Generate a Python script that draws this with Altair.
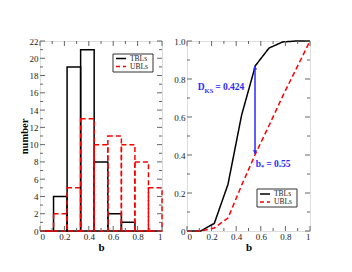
import altair as alt
import pandas as pd

# ---------------- data ----------------
bin_lo = [0.0, 0.111, 0.222, 0.333, 0.444, 0.556, 0.667, 0.778, 0.889]
bin_hi = [0.111, 0.222, 0.333, 0.444, 0.556, 0.667, 0.778, 0.889, 1.0]
tbl_counts = [0, 4, 19, 21, 8, 2, 1, 0, 0]
ubl_counts = [0, 2, 5, 13, 10, 11, 10, 8, 5]

cdf_b = [0.0, 0.111, 0.222, 0.333, 0.444, 0.556, 0.667, 0.778, 0.889, 1.0]
tbl_cdf = [0.0, 0.0, 0.04, 0.245, 0.61, 0.87, 0.963, 0.995, 1.0, 1.0]
ubl_cdf = [0.0, 0.0, 0.016, 0.068, 0.24, 0.405, 0.555, 0.71, 0.855, 1.0]

b_star = 0.553
d_lo, d_hi = 0.405, 0.87

hist_yticks_major = [0, 2, 4, 6, 8, 10, 12, 14, 16, 18, 20, 22]
hist_yticks_minor = [1, 3, 5, 7, 9, 11, 13, 15, 17, 19, 21]
cdf_yticks_major = [0, 0.2, 0.4, 0.6, 0.8, 1.0]
cdf_yticks_minor = [0.1, 0.3, 0.5, 0.7, 0.9]
xticks_major = [0, 0.2, 0.4, 0.6, 0.8, 1.0]
xticks_minor = [0.1, 0.3, 0.5, 0.7, 0.9]

series = ["TBLs", "UBLs"]

FONT = "Liberation Serif"
BLUE = "#2b2bff"
RED = "#ff0000"
TICK = "#666666"

W1, W2, H = 122, 123, 190

hist_t = pd.DataFrame({"lo": bin_lo, "hi": bin_hi, "n": tbl_counts})
hist_u = pd.DataFrame({"lo": bin_lo, "hi": bin_hi, "n": ubl_counts})
cdf_df = pd.DataFrame({"b": cdf_b * 2,
                       "F": tbl_cdf + ubl_cdf,
                       "s": [series[0]] * len(cdf_b) + [series[1]] * len(cdf_b)})

XAXIS = alt.Axis(values=xticks_major, labelExpr="format(datum.value, '~g')",
                 domain=False, ticks=False, grid=False, labelPadding=1,
                 labelFont=FONT, labelFontSize=9, labelColor="#222",
                 title="b", titleFont=FONT, titleFontSize=11,
                 titleFontWeight="bold", titlePadding=0, titleColor="#000")
YAXIS1 = alt.Axis(values=hist_yticks_major, domain=False, ticks=False, grid=False,
                  labelPadding=2, labelFont=FONT, labelFontSize=9, labelColor="#222",
                  title="number", titleFont=FONT, titleFontSize=10.5,
                  titleFontWeight="bold", titlePadding=0, titleColor="#000")
YAXIS2 = alt.Axis(values=cdf_yticks_major,
                  labelExpr="datum.value == 0 ? '0' : format(datum.value, '.1f')",
                  domain=False, ticks=False, grid=False, labelPadding=2,
                  labelFont=FONT, labelFontSize=9, labelColor="#222", title="")

xs1 = alt.Scale(domain=[0, 1], nice=False, zero=False)
ys1 = alt.Scale(domain=[0, 22], nice=False)
xs2 = alt.Scale(domain=[0, 1], nice=False, zero=False)
ys2 = alt.Scale(domain=[0, 1], nice=False)


def tick_layers(xs, xaxis, ys, yaxis, ys_major, ys_minor, width):
    layers = []
    for vals, ln in ((xticks_major, 5), (xticks_minor, 3)):
        df = pd.DataFrame({"v": vals})
        for y0, y1 in ((H, H - ln), (0, ln)):
            layers.append(alt.Chart(df).mark_rule(color=TICK, strokeWidth=1).encode(
                x=alt.X("v:Q", scale=xs, axis=xaxis),
                y=alt.value(y0), y2=alt.value(y1)))
    for vals, ln in ((ys_major, 5), (ys_minor, 3)):
        df = pd.DataFrame({"v": vals})
        for x0, x1 in ((0, ln), (width, width - ln)):
            layers.append(alt.Chart(df).mark_rule(color=TICK, strokeWidth=1).encode(
                y=alt.Y("v:Q", scale=ys, axis=yaxis),
                x=alt.value(x0), x2=alt.value(x1)))
    return layers


def legend_layers(bx0, by0, bx1, by1, row1, row2, lx0, lx1, tx):
    one = pd.DataFrame({"k": [0]})
    box = alt.Chart(one).mark_rect(fill="white", stroke="#333", strokeWidth=1).encode(
        x=alt.value(bx0), x2=alt.value(bx1), y=alt.value(by0), y2=alt.value(by1))
    l1 = alt.Chart(one).mark_rule(color="black", strokeWidth=1.5).encode(
        x=alt.value(lx0), x2=alt.value(lx1), y=alt.value(row1))
    l2 = alt.Chart(one).mark_rule(color=RED, strokeWidth=1.5, strokeDash=[4, 3]).encode(
        x=alt.value(lx0), x2=alt.value(lx1), y=alt.value(row2))
    out = [box, l1, l2]
    for lab, yy in zip(series, (row1, row2)):
        out.append(alt.Chart(pd.DataFrame({"lab": [lab]})).mark_text(
            font=FONT, fontSize=7.5, align="left", baseline="middle", color="#222").encode(
            x=alt.value(tx), y=alt.value(yy), text="lab:N"))
    return out


# ---------------- left: histogram ----------------
bars_t = alt.Chart(hist_t).mark_rect(fillOpacity=0, stroke="black", strokeWidth=1.5).encode(
    x=alt.X("lo:Q", scale=xs1, axis=XAXIS), x2="hi:Q",
    y=alt.Y("n:Q", scale=ys1, axis=YAXIS1), y2=alt.datum(0))
bars_u = alt.Chart(hist_u).mark_rect(fillOpacity=0, stroke=RED, strokeWidth=1.5,
                                     strokeDash=[5, 3]).encode(
    x=alt.X("lo:Q", scale=xs1, axis=XAXIS), x2="hi:Q",
    y=alt.Y("n:Q", scale=ys1, axis=YAXIS1), y2=alt.datum(0))

left = alt.layer(
    bars_t, bars_u,
    *tick_layers(xs1, XAXIS, ys1, YAXIS1, hist_yticks_major, hist_yticks_minor, W1),
    *legend_layers(73, 13, 113, 31, 17.5, 25.5, 76, 86, 90),
).properties(width=W1, height=H)

# ---------------- right: CDF ----------------
cdf_lines = alt.Chart(cdf_df).mark_line(strokeWidth=1.5).encode(
    x=alt.X("b:Q", scale=xs2, axis=XAXIS),
    y=alt.Y("F:Q", scale=ys2, axis=YAXIS2),
    color=alt.Color("s:N", scale=alt.Scale(domain=series, range=["black", RED]),
                    legend=None),
    strokeDash=alt.StrokeDash("s:N", scale=alt.Scale(domain=series,
                                                     range=[[1, 0], [5, 3]]), legend=None),
)

arrow_df = pd.DataFrame({"b": [b_star], "lo": [d_lo], "hi": [d_hi]})
arrow = alt.Chart(arrow_df).mark_rule(color=BLUE, strokeWidth=1.5).encode(
    x=alt.X("b:Q", scale=xs2, axis=XAXIS), y=alt.Y("lo:Q", scale=ys2, axis=YAXIS2), y2="hi:Q")
head_top = alt.Chart(arrow_df).mark_point(shape="triangle-up", filled=True, color=BLUE,
                                          size=18, opacity=1, yOffset=2).encode(
    x=alt.X("b:Q", scale=xs2, axis=XAXIS), y=alt.Y("hi:Q", scale=ys2, axis=YAXIS2))
head_bot = alt.Chart(arrow_df).mark_point(shape="triangle-down", filled=True, color=BLUE,
                                          size=18, opacity=1, yOffset=-2).encode(
    x=alt.X("b:Q", scale=xs2, axis=XAXIS), y=alt.Y("lo:Q", scale=ys2, axis=YAXIS2))

ann_x = [0.087, 0.087, 0.087, 0.558, 0.558, 0.558]
ann_y = [0.742, 0.742, 0.742, 0.337, 0.337, 0.337]
ann_t = ["D", "KS", "= 0.424", "b", "*", "= 0.55"]
ann_dx = [0, 6.9, 17.5, 0, 5.3, 10.5]
ann_dy = [0, 2.5, 0, 0, 2.5, 0]
ann_fs = [9.5, 6.5, 9.5, 9.5, 6.5, 9.5]

ann_layers = []
for i in range(len(ann_t)):
    d = pd.DataFrame({"x": [ann_x[i]], "y": [ann_y[i]], "t": [ann_t[i]]})
    ann_layers.append(alt.Chart(d).mark_text(
        font=FONT, fontWeight="bold", color=BLUE, align="left", baseline="alphabetic",
        dx=ann_dx[i], dy=ann_dy[i], fontSize=ann_fs[i]).encode(
        x=alt.X("x:Q", scale=xs2, axis=XAXIS), y=alt.Y("y:Q", scale=ys2, axis=YAXIS2),
        text="t:N"))

right = alt.layer(
    cdf_lines, arrow, head_top, head_bot, *ann_layers,
    *tick_layers(xs2, XAXIS, ys2, YAXIS2, cdf_yticks_major, cdf_yticks_minor, W2),
    *legend_layers(70, 148, 110, 166, 153, 161, 73, 83, 87),
).properties(width=W2, height=H)

chart = alt.hconcat(left, right, spacing=9).properties(
    padding={"left": 10, "top": 28, "right": 5, "bottom": 5}
).configure_view(stroke="#333", strokeWidth=1).configure(background="white")

chart.save("out.html", embed_options={"renderer": "svg", "actions": False})
